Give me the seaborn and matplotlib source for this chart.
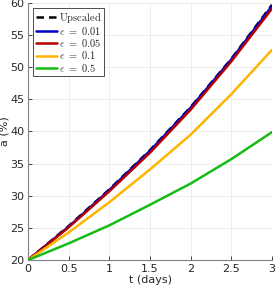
import numpy as np
import pandas as pd
import matplotlib
matplotlib.use("Agg")
import matplotlib.pyplot as plt
import seaborn as sns

# values
t_days = [0, 0.5, 1, 1.5, 2, 2.5, 3]
a_upscaled = [20, 25.3, 31.0, 37.1, 43.8, 51.3, 59.7]
a_eps001 = [20, 25.2, 30.9, 37.0, 43.7, 51.2, 59.5]
a_eps005 = [20, 25.1, 30.7, 36.7, 43.4, 50.9, 59.1]
a_eps01 = [20, 24.3, 29.0, 34.1, 39.5, 45.8, 52.7]
a_eps05 = [20, 22.6, 25.4, 28.6, 31.9, 35.7, 39.9]

labels = [r"$\mathrm{Upscaled}$", r"$\epsilon\ =\ 0.01$", r"$\epsilon\ =\ 0.05$",
          r"$\epsilon\ =\ 0.1$", r"$\epsilon\ =\ 0.5$"]
series = [a_upscaled, a_eps001, a_eps005, a_eps01, a_eps05]
colors = ["#000000", "#0000c8", "#b40000", "#ffb400", "#14bc14"]

df = pd.DataFrame({
    "t": np.tile(t_days, len(series)),
    "a": np.concatenate(series),
    "case": np.repeat(labels, len(t_days)),
})

sns.set_theme(style="whitegrid")
plt.rcParams["mathtext.fontset"] = "cm"
plt.rcParams["font.family"] = ["DejaVu Sans"]

fig = plt.figure(figsize=(2.75, 2.88), dpi=100)
ax = fig.add_axes([0.102, 0.097, 0.887, 0.893])

for lab, col in zip(labels, colors):
    sub = df[df["case"] == lab]
    dashed = lab == labels[0]
    sns.lineplot(data=sub, x="t", y="a", ax=ax, color=col, label=lab,
                 lw=1.8,
                 linestyle=(0, (3, 2)) if dashed else "-",
                 zorder=2 if dashed else 3)

ax.set_xlim(0, 3)
ax.set_ylim(20, 60)
ax.set_xticks([0, 0.5, 1, 1.5, 2, 2.5, 3])
ax.set_xticklabels(["0", "0.5", "1", "1.5", "2", "2.5", "3"])
ax.set_yticks(range(20, 61, 5))
ax.set_xlabel("t (days)", fontsize=8, color="#262626", labelpad=1)
ax.set_ylabel("a (%)", fontsize=8, color="#262626", labelpad=1)
ax.tick_params(labelsize=8, colors="#262626", direction="in", length=3,
               width=0.6, pad=2.5, left=True, bottom=True)
ax.grid(color="#ebebeb", lw=0.6)
for s in ["top", "right"]:
    ax.spines[s].set_visible(False)
for s in ["left", "bottom"]:
    ax.spines[s].set_color("#808080")
    ax.spines[s].set_linewidth(0.8)

leg = ax.legend(loc="upper left", fontsize=7.5, frameon=True, fancybox=False,
                handlelength=2.0, handletextpad=0.2, borderpad=0.25,
                labelspacing=0.02, borderaxespad=0.5)
leg.get_frame().set_edgecolor("#303030")
leg.get_frame().set_linewidth(0.6)
leg.get_frame().set_facecolor("white")
leg.get_frame().set_alpha(1)

fig.savefig("out.png", dpi=100)
